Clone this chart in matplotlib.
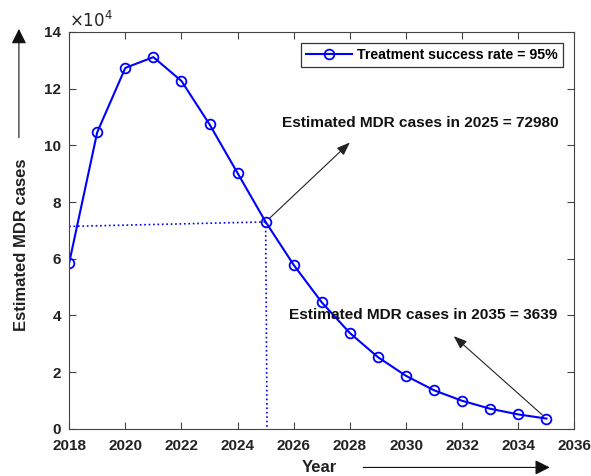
import matplotlib
matplotlib.use("Agg")
import matplotlib.pyplot as plt
from matplotlib.ticker import FuncFormatter
from matplotlib.patches import FancyArrowPatch

plt.rcParams['font.family'] = ['Liberation Sans', 'DejaVu Sans']

years = [2018, 2019, 2020, 2021, 2022, 2023, 2024, 2025, 2026, 2027,
         2028, 2029, 2030, 2031, 2032, 2033, 2034, 2035]
cases = [58500, 104600, 127300, 131100, 122700, 107400, 90200, 72980, 57800, 44600,
         33800, 25300, 18700, 13600, 9900, 7100, 5100, 3639]
series_label = 'Treatment success rate = 95%'
note_2025 = 'Estimated MDR cases in 2025 = 72980'
note_2035 = 'Estimated MDR cases in 2035 = 3639'
xticks = list(range(2018, 2037, 2))
yticks = list(range(0, 140001, 20000))

fig = plt.figure(figsize=(5.91, 4.76), dpi=100)
ax = fig.add_axes([0.117, 0.099, 0.855, 0.834])

ax.plot(years, cases, '-o', color='#0000ff', lw=1.5, ms=7, mfc='none', mew=1.3,
        label=series_label)

# guide lines to 2025 point
ax.plot([2018, 2025], [71400, 72980], ':', color='#0000ff', lw=1.2)
ax.plot([2025, 2025.05], [72980, 0], ':', color='#0000ff', lw=1.2)

ax.set_xlim(2018, 2036)
ax.set_ylim(0, 140000)
ax.set_xticks(xticks)
ax.set_yticks(yticks)
ax.yaxis.set_major_formatter(FuncFormatter(lambda v, p: f'{v / 1e4:g}'))
ax.text(0.0, 1.005, r'$\times10^4$', transform=ax.transAxes, ha='left', va='bottom',
        fontsize=12, color='#222222')
ax.tick_params(direction='in', top=True, right=True, labelsize=11, length=5,
               color='#444444')
ax.tick_params(axis='x', pad=7)
ax.tick_params(axis='y', pad=6)
for lab in ax.get_xticklabels() + ax.get_yticklabels():
    lab.set_fontweight('bold')
    lab.set_color('#222222')
for s in ax.spines.values():
    s.set_color('#444444')
    s.set_linewidth(0.8)

leg = ax.legend(loc='upper right', prop={'weight': 'bold', 'size': 10.2},
                fancybox=False, edgecolor='#333333', framealpha=1,
                borderaxespad=0.8, handlelength=3.2, borderpad=0.35,
                handletextpad=0.4)
leg.get_frame().set_linewidth(0.9)

ax.annotate('', xy=(2028.0, 101000), xytext=(2025, 72980),
            arrowprops=dict(arrowstyle='-|>,head_length=0.8,head_width=0.3',
                            color='#222222', lw=0.8, shrinkA=4, shrinkB=0))
ax.text(2030.5, 108000, note_2025, ha='center', va='center', fontsize=11.1,
        fontweight='bold', color='#111111')

ax.annotate('', xy=(2031.7, 32700), xytext=(2035, 3639),
            arrowprops=dict(arrowstyle='-|>,head_length=0.8,head_width=0.3',
                            color='#222222', lw=0.8, shrinkA=4, shrinkB=0))
ax.text(2030.6, 40000, note_2035, ha='center', va='center', fontsize=11.1,
        fontweight='bold', color='#111111')

# axis labels with arrows
fig.text(0.036, 0.486, 'Estimated MDR cases', rotation=90, ha='center', va='center',
         fontsize=12, fontweight='bold', color='#222222')
fig.text(0.541, 0.018, 'Year', ha='center', va='center',
         fontsize=12, fontweight='bold', color='#222222')
fig.add_artist(FancyArrowPatch(
    (0.032, 0.705), (0.032, 0.945), transform=fig.transFigure,
    arrowstyle='-|>,head_length=6,head_width=3', color='#111111', lw=0.8,
    mutation_scale=1.5))
fig.add_artist(FancyArrowPatch(
    (0.61, 0.018), (0.935, 0.018), transform=fig.transFigure,
    arrowstyle='-|>,head_length=6,head_width=3', color='#111111', lw=0.8,
    mutation_scale=1.5))

fig.savefig('out.png', dpi=100)
